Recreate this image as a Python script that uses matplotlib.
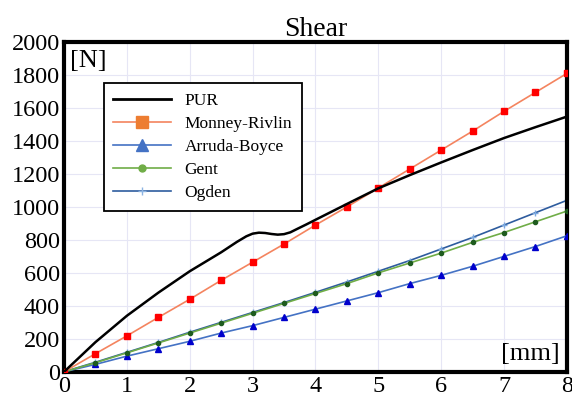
import matplotlib
matplotlib.use("Agg")
import matplotlib.pyplot as plt
from matplotlib.lines import Line2D

# displacement [mm] and force [N]
x_model = [0, 0.5, 1, 1.5, 2, 2.5, 3, 3.5, 4, 4.5, 5, 5.5, 6, 6.5, 7, 7.5, 8]
mooney = [0, 110, 218, 330, 440, 555, 665, 775, 890, 1000, 1115, 1230, 1345, 1460, 1580, 1695, 1810]
arruda = [0, 45, 95, 140, 185, 235, 280, 330, 380, 430, 480, 535, 585, 640, 700, 760, 825]
gent = [0, 55, 115, 175, 235, 295, 355, 415, 475, 535, 600, 660, 720, 785, 845, 910, 975]
ogden = [0, 58, 118, 178, 240, 300, 360, 420, 482, 545, 610, 675, 745, 815, 890, 965, 1040]

x_pur = [0, 0.5, 1, 1.5, 2, 2.5, 2.75, 2.9, 3.0, 3.1, 3.2, 3.3, 3.4, 3.5, 3.6, 3.7,
         3.85, 4, 4.5, 5, 5.5, 6, 6.5, 7, 7.5, 8]
pur = [0, 180, 340, 480, 610, 725, 788, 822, 838, 844, 842, 836, 832, 835, 846, 865,
       893, 922, 1018, 1113, 1193, 1270, 1345, 1418, 1484, 1548]

plt.rcParams["font.family"] = ["Liberation Serif", "DejaVu Serif"]

fig, ax = plt.subplots(figsize=(5.72, 4.05), dpi=100)
fig.subplots_adjust(left=0.112, right=0.991, top=0.896, bottom=0.082)

ax.plot(x_pur, pur, color="black", linewidth=1.8, zorder=5)
ax.plot(x_model, mooney, color="#f4845f", linewidth=1.2, marker="s", markersize=5,
        markerfacecolor="red", markeredgecolor="red", zorder=4)
ax.plot(x_model, arruda, color="#4472c4", linewidth=1.2, marker="^", markersize=4.5,
        markerfacecolor="#0000cc", markeredgecolor="#0000cc", zorder=3)
ax.plot(x_model, gent, color="#70ad47", linewidth=1.2, marker="o", markersize=3,
        markerfacecolor="#1e5b1e", markeredgecolor="#1e5b1e", zorder=3)
ax.plot(x_model, ogden, color="#2e5c9e", linewidth=1.2, marker="+", markersize=4,
        markeredgecolor="#7aa8e0", zorder=2)

ax.set_xlim(0, 8)
ax.set_ylim(0, 2000)
ax.set_xticks(range(0, 9))
ax.set_yticks(range(0, 2001, 200))
ax.grid(True, color="#e6e6f5", linewidth=0.8)
ax.set_axisbelow(True)
ax.tick_params(labelsize=17.5, length=0, pad=3)
for s in ax.spines.values():
    s.set_linewidth(3)
    s.set_color("black")

ax.set_title("Shear", fontsize=20, pad=3)
ax.text(0.012, 0.975, "[N]", transform=ax.transAxes, fontsize=19, va="top", ha="left")
ax.text(0.985, 0.02, "[mm]", transform=ax.transAxes, fontsize=19, va="bottom", ha="right")

handles = [
    Line2D([], [], color="black", linewidth=2),
    Line2D([], [], color="#f4845f", linewidth=1.2, marker="s", markersize=9,
           markerfacecolor="#ed7d31", markeredgecolor="#ed7d31"),
    Line2D([], [], color="#4472c4", linewidth=1.2, marker="^", markersize=9,
           markerfacecolor="#4472c4", markeredgecolor="#4472c4"),
    Line2D([], [], color="#70ad47", linewidth=1.2, marker="o", markersize=5,
           markerfacecolor="#70ad47", markeredgecolor="#70ad47"),
    Line2D([], [], color="#2e5c9e", linewidth=1.2, marker="+", markersize=6,
           markeredgecolor="#8db4e2"),
]
labels = ["PUR", "Monney-Rivlin", "Arruda-Boyce", "Gent", "Ogden"]
leg = ax.legend(handles, labels, loc="upper left", bbox_to_anchor=(0.062, 0.902),
                fontsize=12.5, frameon=True, fancybox=False, edgecolor="black",
                framealpha=1, handlelength=3.3, labelspacing=0.4, borderpad=0.55)
leg.get_frame().set_linewidth(1.3)

fig.savefig("out.png", dpi=100)
